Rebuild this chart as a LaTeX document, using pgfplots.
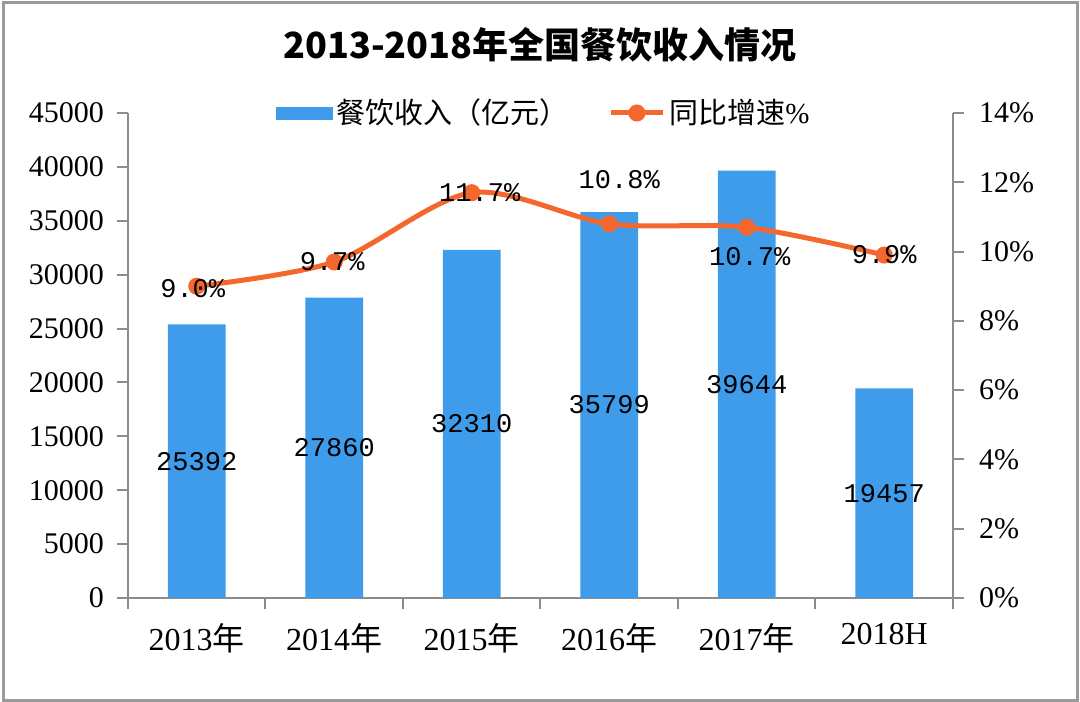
\documentclass[border=0pt]{standalone}
\usepackage{pgfplots}
\usepackage{pgfplotstable}
\pgfplotsset{compat=1.18}
\usepackage{fontspec}
\setmainfont{Liberation Serif}
\newfontfamily\cjk{Noto Sans CJK SC}
\newfontfamily\monof{Liberation Mono}
\definecolor{barblue}{HTML}{3F9CEA}
\definecolor{lineorange}{HTML}{F4682E}
\definecolor{axgray}{HTML}{8C8C8C}
\definecolor{framegray}{HTML}{9A9A9A}

\pgfplotstableread{
x y
0 25392
1 27860
2 32310
3 35799
4 39644
5 19457
}\revenue

\pgfplotstableread{
x y dx dy
0 9.0 -2 -1
1 9.7 -1 0
2 11.7 4 0
3 10.8 5 22
4 10.7 1.5 -14.5
5 9.9 0 0
}\growth

\begin{document}
\begin{tikzpicture}
\useasboundingbox (0,0) rectangle (540bp,351bp);
\fill[white] (0,0) rectangle (540bp,351bp);
\draw[framegray, line width=1.5bp] (1.5bp,1bp) rectangle (538.5bp,349.5bp);
\node[font=\cjk\bfseries\fontsize{18bp}{20bp}\selectfont] at (270bp,328.5bp) {2013-2018年全国餐饮收入情况};

\begin{axis}[
  at={(64bp,52bp)}, anchor=south west,
  scale only axis, width=412.5bp, height=242.5bp,
  xmin=-0.5, xmax=5.5, ymin=0, ymax=45000,
  ytick={0,5000,...,45000},
  scaled y ticks=false,
  /pgf/number format/1000 sep={},
  /pgf/number format/assume math mode=true,
  axis x line*=bottom, axis y line*=left,
  axis line style={axgray, line width=1bp, -},
  xtick={-0.5,0.5,1.5,2.5,3.5,4.5,5.5},
  x tick label as interval,
  xticklabels={2013{\cjk 年},2014{\cjk 年},2015{\cjk 年},2016{\cjk 年},2017{\cjk 年},2018H},
  tick style={axgray, line width=1bp},
  tick align=outside, major tick length=5.5bp,
  yticklabel style={font=\fontsize{15bp}{17bp}\selectfont, xshift=-3bp},
  xticklabel style={font=\fontsize{16bp}{18bp}\selectfont, yshift=-3.5bp},
  clip=false,
]
\addplot[ybar, bar width=0.42, fill=barblue, draw=none] table[x=x,y=y] {\revenue};
\addplot[draw=none, mark=none, point meta=explicit,
  nodes near coords={\pgfmathprintnumber[fixed,precision=0,1000 sep={}]{\pgfplotspointmeta}},
  every node near coord/.style={anchor=center, font=\monof\fontsize{13.5bp}{15bp}\selectfont, text=black}]
  table[x=x, y expr=\thisrow{y}/2, meta=y] {\revenue};
\end{axis}

\begin{axis}[
  at={(64bp,52bp)}, anchor=south west,
  scale only axis, width=412.5bp, height=242.5bp,
  xmin=-0.5, xmax=5.5, ymin=0, ymax=14,
  axis x line=none, axis y line*=right,
  axis line style={axgray, line width=1bp, -},
  ytick={0,2,...,14},
  /pgf/number format/assume math mode=true,
  yticklabel={\pgfmathprintnumber{\tick}\%},
  tick style={axgray, line width=1bp},
  tick align=outside, major tick length=5.5bp,
  yticklabel style={font=\fontsize{15bp}{17bp}\selectfont, xshift=4bp},
  clip=false,
  legend columns=2,
  legend style={draw=none, fill=none, at={(0.505,1.0)}, anchor=center,
    font=\cjk\fontsize{14.5bp}{16bp}\selectfont,
    /tikz/every even column/.append style={column sep=18bp},
    inner xsep=0pt, inner ysep=0pt},
]
\addlegendimage{legend image code/.code={\fill[barblue] (-4bp,-3bp) rectangle (24bp,3bp);}}
\addlegendentry{餐饮收入（亿元）}
\addplot[color=lineorange, line width=2.5bp, smooth, tension=0.5,
  mark=*, mark size=3bp, mark options={fill=lineorange, draw=lineorange},
  point meta=y,
  visualization depends on={\thisrow{dx} \as \dx},
  visualization depends on={\thisrow{dy} \as \dy},
  nodes near coords={\pgfmathprintnumber[fixed,fixed zerofill,precision=1]{\pgfplotspointmeta}\%},
  every node near coord/.style={anchor=center, xshift=\dx bp, yshift=\dy bp, font=\monof\fontsize{13.5bp}{15bp}\selectfont, text=black},
  legend image code/.code={\draw[lineorange, line width=2.5bp] (0bp,0bp) -- (26bp,0bp); \fill[lineorange] (13bp,0bp) circle (3bp);}
] table[x=x,y=y] {\growth};
\addlegendentry{同比增速\rmfamily\%}
\end{axis}
\end{tikzpicture}
\end{document}
